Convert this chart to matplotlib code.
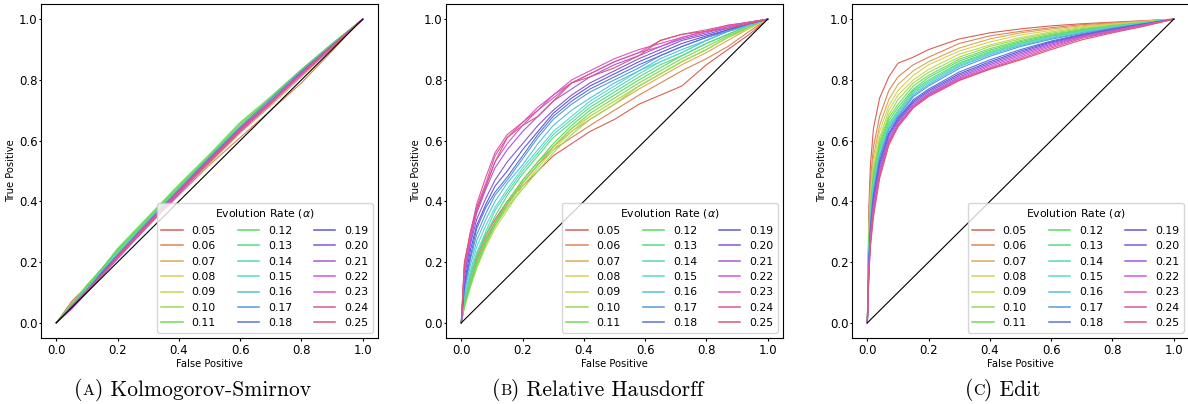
import matplotlib
matplotlib.use("Agg")
import matplotlib.pyplot as plt
from matplotlib.offsetbox import TextArea, HPacker, AnnotationBbox
import seaborn as sns

# evolution rates (one curve each)
alphas = ["0.05", "0.06", "0.07", "0.08", "0.09", "0.10", "0.11",
          "0.12", "0.13", "0.14", "0.15", "0.16", "0.17", "0.18",
          "0.19", "0.20", "0.21", "0.22", "0.23", "0.24", "0.25"]

# (A) Kolmogorov-Smirnov
ks_fpr = [0, 0.05, 0.1, 0.15, 0.2, 0.3, 0.4, 0.5, 0.6, 0.7, 0.8, 0.9, 0.95, 1.0]
ks_tpr = [
    [0, 0.07, 0.12, 0.18, 0.235, 0.33, 0.43, 0.53, 0.63, 0.72, 0.82, 0.91, 0.955, 1],
    [0, 0.06, 0.11, 0.165, 0.22, 0.32, 0.42, 0.52, 0.61, 0.70, 0.79, 0.895, 0.95, 1],
    [0, 0.055, 0.11, 0.165, 0.22, 0.325, 0.43, 0.525, 0.625, 0.715, 0.81, 0.905, 0.952, 1],
    [0, 0.06, 0.115, 0.17, 0.225, 0.33, 0.435, 0.535, 0.635, 0.725, 0.82, 0.91, 0.955, 1],
    [0, 0.06, 0.12, 0.175, 0.235, 0.34, 0.445, 0.545, 0.645, 0.735, 0.825, 0.915, 0.958, 1],
    [0, 0.065, 0.12, 0.18, 0.24, 0.345, 0.45, 0.55, 0.65, 0.74, 0.83, 0.918, 0.96, 1],
    [0, 0.06, 0.125, 0.18, 0.245, 0.35, 0.455, 0.555, 0.66, 0.745, 0.835, 0.92, 0.96, 1],
    [0, 0.06, 0.12, 0.18, 0.24, 0.345, 0.45, 0.55, 0.655, 0.74, 0.832, 0.918, 0.958, 1],
    [0, 0.055, 0.115, 0.175, 0.235, 0.34, 0.445, 0.545, 0.645, 0.735, 0.828, 0.915, 0.957, 1],
    [0, 0.055, 0.115, 0.17, 0.23, 0.335, 0.44, 0.54, 0.64, 0.732, 0.825, 0.913, 0.956, 1],
    [0, 0.055, 0.11, 0.17, 0.23, 0.335, 0.44, 0.545, 0.645, 0.735, 0.828, 0.915, 0.957, 1],
    [0, 0.05, 0.11, 0.165, 0.225, 0.33, 0.435, 0.54, 0.64, 0.73, 0.825, 0.912, 0.955, 1],
    [0, 0.055, 0.11, 0.17, 0.225, 0.335, 0.44, 0.545, 0.645, 0.738, 0.83, 0.915, 0.957, 1],
    [0, 0.05, 0.105, 0.16, 0.22, 0.325, 0.43, 0.535, 0.635, 0.728, 0.822, 0.91, 0.955, 1],
    [0, 0.05, 0.105, 0.165, 0.22, 0.33, 0.435, 0.54, 0.64, 0.73, 0.825, 0.912, 0.956, 1],
    [0, 0.05, 0.1, 0.16, 0.215, 0.325, 0.43, 0.535, 0.635, 0.727, 0.82, 0.91, 0.955, 1],
    [0, 0.05, 0.105, 0.16, 0.215, 0.32, 0.425, 0.53, 0.63, 0.725, 0.818, 0.908, 0.954, 1],
    [0, 0.045, 0.1, 0.155, 0.21, 0.32, 0.425, 0.53, 0.63, 0.722, 0.815, 0.906, 0.953, 1],
    [0, 0.05, 0.1, 0.155, 0.215, 0.32, 0.43, 0.535, 0.635, 0.727, 0.82, 0.91, 0.955, 1],
    [0, 0.05, 0.105, 0.16, 0.215, 0.325, 0.43, 0.535, 0.635, 0.728, 0.82, 0.91, 0.955, 1],
    [0, 0.055, 0.105, 0.16, 0.22, 0.33, 0.435, 0.54, 0.64, 0.73, 0.823, 0.912, 0.956, 1],
]

# (B) Relative Hausdorff
rh_fpr = [0, 0.01, 0.03, 0.05, 0.08, 0.11, 0.15, 0.2, 0.25, 0.3, 0.36, 0.42,
          0.5, 0.58, 0.65, 0.72, 0.8, 0.87, 0.94, 1.0]
rh_tpr = [
    [0, 0.08, 0.16, 0.22, 0.29, 0.34, 0.40, 0.45, 0.50, 0.55, 0.59, 0.63, 0.67, 0.72, 0.75, 0.78, 0.85, 0.90, 0.95, 1],
    [0, 0.07, 0.15, 0.21, 0.28, 0.33, 0.39, 0.46, 0.52, 0.57, 0.61, 0.65, 0.70, 0.75, 0.79, 0.83, 0.87, 0.91, 0.96, 1],
    [0, 0.06, 0.14, 0.20, 0.27, 0.33, 0.39, 0.47, 0.53, 0.58, 0.63, 0.67, 0.72, 0.77, 0.81, 0.85, 0.89, 0.93, 0.97, 1],
    [0, 0.06, 0.13, 0.19, 0.26, 0.32, 0.38, 0.46, 0.52, 0.58, 0.64, 0.68, 0.73, 0.78, 0.82, 0.86, 0.90, 0.94, 0.97, 1],
    [0, 0.05, 0.12, 0.18, 0.25, 0.31, 0.37, 0.45, 0.51, 0.57, 0.63, 0.68, 0.73, 0.78, 0.82, 0.86, 0.90, 0.94, 0.97, 1],
    [0, 0.05, 0.12, 0.18, 0.26, 0.32, 0.38, 0.44, 0.50, 0.56, 0.62, 0.67, 0.72, 0.78, 0.82, 0.86, 0.90, 0.94, 0.975, 1],
    [0, 0.06, 0.13, 0.19, 0.26, 0.32, 0.39, 0.46, 0.52, 0.58, 0.64, 0.69, 0.74, 0.79, 0.83, 0.87, 0.91, 0.945, 0.975, 1],
    [0, 0.06, 0.13, 0.20, 0.27, 0.33, 0.40, 0.47, 0.53, 0.59, 0.65, 0.70, 0.75, 0.80, 0.84, 0.88, 0.92, 0.95, 0.98, 1],
    [0, 0.07, 0.15, 0.22, 0.29, 0.35, 0.42, 0.49, 0.55, 0.61, 0.66, 0.71, 0.76, 0.81, 0.85, 0.88, 0.92, 0.95, 0.98, 1],
    [0, 0.08, 0.16, 0.23, 0.30, 0.37, 0.43, 0.50, 0.56, 0.62, 0.67, 0.72, 0.77, 0.82, 0.86, 0.89, 0.93, 0.96, 0.98, 1],
    [0, 0.09, 0.17, 0.25, 0.32, 0.38, 0.44, 0.51, 0.57, 0.63, 0.68, 0.73, 0.78, 0.83, 0.86, 0.89, 0.93, 0.96, 0.98, 1],
    [0, 0.10, 0.19, 0.27, 0.34, 0.40, 0.46, 0.52, 0.59, 0.65, 0.70, 0.74, 0.79, 0.83, 0.87, 0.90, 0.93, 0.96, 0.98, 1],
    [0, 0.11, 0.21, 0.29, 0.36, 0.42, 0.47, 0.54, 0.61, 0.67, 0.72, 0.76, 0.80, 0.84, 0.88, 0.91, 0.94, 0.96, 0.985, 1],
    [0, 0.12, 0.22, 0.31, 0.38, 0.43, 0.48, 0.55, 0.62, 0.68, 0.73, 0.77, 0.81, 0.85, 0.88, 0.91, 0.94, 0.965, 0.985, 1],
    [0, 0.13, 0.24, 0.32, 0.39, 0.45, 0.50, 0.57, 0.63, 0.69, 0.74, 0.78, 0.82, 0.86, 0.89, 0.92, 0.945, 0.965, 0.985, 1],
    [0, 0.15, 0.26, 0.34, 0.41, 0.47, 0.53, 0.59, 0.65, 0.70, 0.75, 0.79, 0.83, 0.87, 0.90, 0.93, 0.95, 0.97, 0.99, 1],
    [0, 0.16, 0.27, 0.36, 0.44, 0.51, 0.57, 0.63, 0.68, 0.73, 0.77, 0.81, 0.85, 0.88, 0.91, 0.935, 0.955, 0.975, 0.99, 1],
    [0, 0.17, 0.28, 0.37, 0.45, 0.53, 0.59, 0.65, 0.70, 0.74, 0.79, 0.82, 0.86, 0.89, 0.91, 0.94, 0.96, 0.975, 0.99, 1],
    [0, 0.18, 0.29, 0.38, 0.46, 0.55, 0.61, 0.66, 0.71, 0.75, 0.80, 0.83, 0.87, 0.90, 0.92, 0.94, 0.96, 0.98, 0.99, 1],
    [0, 0.19, 0.30, 0.39, 0.48, 0.56, 0.62, 0.66, 0.70, 0.75, 0.79, 0.82, 0.86, 0.89, 0.93, 0.95, 0.965, 0.98, 0.99, 1],
    [0, 0.20, 0.30, 0.37, 0.45, 0.53, 0.61, 0.65, 0.68, 0.73, 0.79, 0.81, 0.84, 0.88, 0.93, 0.95, 0.96, 0.97, 0.985, 1],
]

# (C) Edit
ed_fpr = [0, 0.005, 0.01, 0.02, 0.04, 0.07, 0.1, 0.15, 0.2, 0.3, 0.4, 0.5,
          0.6, 0.7, 0.8, 0.9, 1.0]
ed_tpr = [
    [0, 0.38, 0.52, 0.64, 0.74, 0.81, 0.855, 0.875, 0.90, 0.935, 0.955, 0.968, 0.978, 0.985, 0.99, 0.995, 1],
    [0, 0.34, 0.47, 0.58, 0.68, 0.765, 0.81, 0.85, 0.875, 0.92, 0.945, 0.96, 0.972, 0.982, 0.988, 0.994, 1],
    [0, 0.32, 0.44, 0.55, 0.65, 0.735, 0.785, 0.83, 0.86, 0.905, 0.935, 0.955, 0.968, 0.978, 0.986, 0.993, 1],
    [0, 0.30, 0.42, 0.53, 0.63, 0.715, 0.765, 0.815, 0.85, 0.895, 0.925, 0.948, 0.963, 0.975, 0.984, 0.992, 1],
    [0, 0.29, 0.40, 0.51, 0.61, 0.70, 0.75, 0.80, 0.835, 0.885, 0.915, 0.94, 0.958, 0.972, 0.982, 0.991, 1],
    [0, 0.28, 0.39, 0.50, 0.60, 0.685, 0.735, 0.79, 0.825, 0.875, 0.91, 0.935, 0.954, 0.969, 0.98, 0.99, 1],
    [0, 0.27, 0.38, 0.49, 0.59, 0.675, 0.72, 0.78, 0.815, 0.868, 0.903, 0.93, 0.95, 0.966, 0.978, 0.989, 1],
    [0, 0.26, 0.37, 0.48, 0.58, 0.665, 0.71, 0.77, 0.808, 0.862, 0.898, 0.926, 0.947, 0.964, 0.977, 0.988, 1],
    [0, 0.25, 0.36, 0.47, 0.57, 0.655, 0.70, 0.765, 0.80, 0.856, 0.893, 0.922, 0.944, 0.962, 0.976, 0.988, 1],
    [0, 0.24, 0.35, 0.46, 0.565, 0.65, 0.695, 0.76, 0.795, 0.852, 0.89, 0.92, 0.942, 0.96, 0.975, 0.987, 1],
    [0, 0.23, 0.34, 0.45, 0.56, 0.645, 0.69, 0.755, 0.79, 0.848, 0.887, 0.917, 0.94, 0.958, 0.974, 0.987, 1],
    [0, 0.22, 0.33, 0.44, 0.55, 0.64, 0.685, 0.75, 0.785, 0.844, 0.883, 0.914, 0.937, 0.956, 0.972, 0.986, 1],
    [0, 0.21, 0.32, 0.43, 0.545, 0.635, 0.68, 0.745, 0.78, 0.838, 0.878, 0.91, 0.934, 0.953, 0.97, 0.985, 1],
    [0, 0.20, 0.31, 0.42, 0.535, 0.625, 0.675, 0.735, 0.77, 0.826, 0.866, 0.90, 0.928, 0.95, 0.968, 0.984, 1],
    [0, 0.19, 0.30, 0.41, 0.525, 0.62, 0.67, 0.73, 0.765, 0.82, 0.86, 0.895, 0.925, 0.948, 0.966, 0.983, 1],
    [0, 0.19, 0.29, 0.40, 0.515, 0.615, 0.665, 0.725, 0.76, 0.815, 0.855, 0.89, 0.922, 0.946, 0.965, 0.982, 1],
    [0, 0.18, 0.28, 0.39, 0.505, 0.605, 0.66, 0.72, 0.755, 0.81, 0.85, 0.885, 0.918, 0.944, 0.963, 0.981, 1],
    [0, 0.18, 0.28, 0.38, 0.495, 0.60, 0.655, 0.715, 0.752, 0.806, 0.845, 0.88, 0.914, 0.942, 0.962, 0.98, 1],
    [0, 0.17, 0.27, 0.37, 0.49, 0.595, 0.65, 0.712, 0.75, 0.803, 0.84, 0.875, 0.91, 0.94, 0.96, 0.98, 1],
    [0, 0.17, 0.26, 0.36, 0.485, 0.59, 0.65, 0.71, 0.748, 0.80, 0.837, 0.87, 0.905, 0.937, 0.958, 0.978, 1],
    [0, 0.16, 0.25, 0.35, 0.475, 0.585, 0.645, 0.708, 0.745, 0.798, 0.835, 0.866, 0.90, 0.932, 0.955, 0.976, 1],
]

colors = sns.color_palette("hls", len(alphas))

fig = plt.figure(figsize=(11.88, 4.04), dpi=100)

panels = [
    (0.0345, ks_fpr, ks_tpr, 0.162, "A", "Kolmogorov-Smirnov"),
    (0.3754, rh_fpr, rh_tpr, 0.503, "B", "Relative Hausdorff"),
    (0.7172, ed_fpr, ed_tpr, 0.844, "C", "Edit"),
]

for left, fpr, tpr, cap_x, letter, name in panels:
    ax = fig.add_axes([left, 0.1634, 0.2837, 0.8267])
    for i, a in enumerate(alphas):
        ax.plot(fpr, tpr[i], color=colors[i], lw=0.8, label=a)
    ax.plot([0, 1], [0, 1], color="black", lw=0.8)
    ax.set_xlim(-0.05, 1.05)
    ax.set_ylim(-0.05, 1.05)
    ax.set_xticks([0, 0.2, 0.4, 0.6, 0.8, 1.0])
    ax.set_yticks([0, 0.2, 0.4, 0.6, 0.8, 1.0])
    ax.tick_params(axis="x", labelsize=8.5, length=2.5, pad=2)
    ax.tick_params(axis="y", labelsize=8.5, length=1.5, pad=1)
    ax.set_xlabel("False Positive", fontsize=7.2, labelpad=1)
    ax.set_ylabel("True Positive", fontsize=7.2, labelpad=2)
    leg = ax.legend(loc="lower right", ncol=3, fontsize=7.8,
                    title=r"Evolution Rate ($\alpha$)", title_fontsize=7.8)
    for h in leg.get_lines():
        h.set_linewidth(1.1)

    # caption with a small-caps letter
    parts = [TextArea("(", textprops=dict(family="cmr10", size=15.5)),
             TextArea(letter, textprops=dict(family="cmr10", size=11.5)),
             TextArea(") " + name, textprops=dict(family="cmr10", size=15.5))]
    box = HPacker(children=parts, align="baseline", pad=0, sep=0)
    ab = AnnotationBbox(box, (cap_x, 0.035), xycoords="figure fraction",
                        frameon=False, box_alignment=(0.5, 0.5))
    fig.add_artist(ab)

fig.savefig("out.png", dpi=100)
